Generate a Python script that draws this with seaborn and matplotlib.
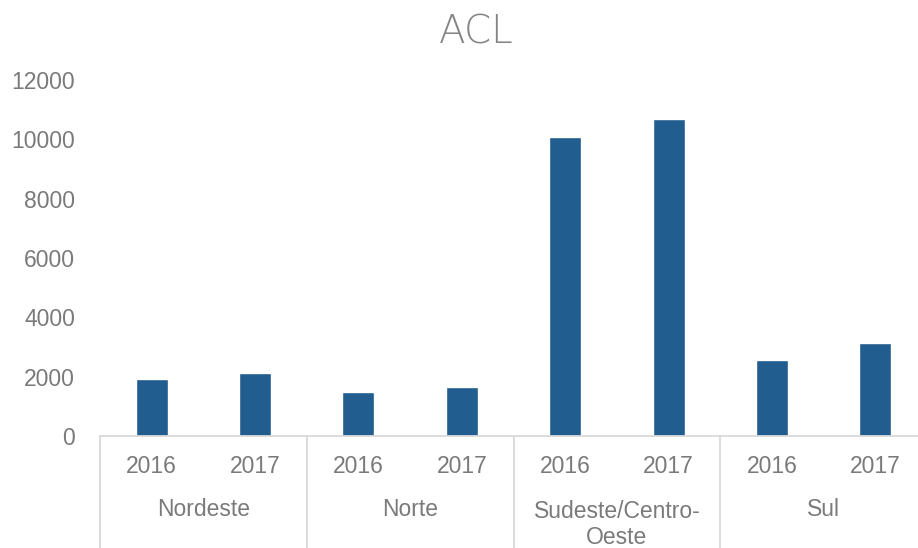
import seaborn as sns
import pandas as pd
import matplotlib.pyplot as plt
from matplotlib import transforms as mtrans

sns.set_style('white')
plt.rcParams['font.family'] = ['Liberation Sans', 'DejaVu Sans']

regions = ['Nordeste', 'Norte', 'Sudeste/Centro-\nOeste', 'Sul']
years = ['2016', '2017']
acl = [1910, 2110, 1490, 1650, 10070, 10680, 2550, 3120]

df = pd.DataFrame({'slot': [f'{r}|{y}' for r in regions for y in years],
                   'year': [y for r in regions for y in years],
                   'region': [r for r in regions for y in years],
                   'acl': acl})

txt = '#7a7a7a'
fig = plt.figure(figsize=(9.18, 5.48), dpi=100)
# plot area runs a little past the right edge, as in the original
ax = fig.add_axes([100/918, 112/548, 827/918, (436-80)/548])

sns.barplot(data=df, x='slot', y='acl', color='#215d8f', width=0.31,
            saturation=1, ax=ax)

ax.set_ylim(0, 12000)
ax.set_xlim(-0.5, len(df) - 0.5)
ax.set_yticks(range(0, 12001, 2000))
ax.tick_params(axis='y', labelsize=16.5, labelcolor=txt, length=0, pad=18)
ax.set_xticks([])
ax.set_xlabel('')
ax.set_ylabel('')
for s in ['top', 'right', 'left']:
    ax.spines[s].set_visible(False)
ax.spines['bottom'].set_color('#d9d9d9')
ax.spines['bottom'].set_linewidth(1.3)

trans = mtrans.blended_transform_factory(ax.transData, ax.transAxes)
# year labels and region labels
for i, row in df.iterrows():
    ax.text(i, -0.086, row['year'], transform=trans, ha='center', va='center',
            fontsize=16.5, color=txt)
for j, r in enumerate(regions):
    ax.text(2*j + 0.5, -0.206 if '\n' not in r else -0.249, r, transform=trans,
            ha='center', va='center', fontsize=16.5, color=txt,
            linespacing=1.2)
# group separators
for k in range(len(regions) + 1):
    x = 2*k - 0.5
    ax.plot([x, x], [0, -0.315], transform=trans, color='#d9d9d9',
            lw=1.3, clip_on=False)

fig.text(476/918, 1 - 32/548, 'ACL', ha='center', va='center', fontsize=28,
         color='#858585', family=['DejaVu Sans'], fontweight='light')

fig.savefig('out.png', dpi=100)
